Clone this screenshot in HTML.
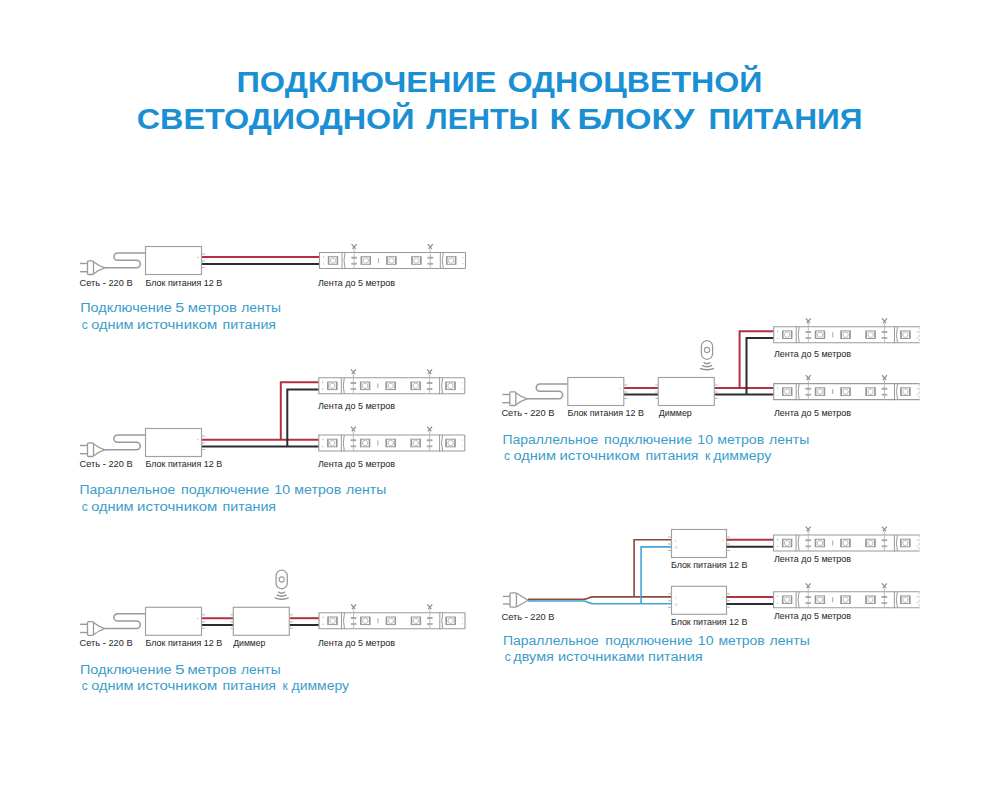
<!DOCTYPE html>
<html><head><meta charset="utf-8"><title>Подключение одноцветной светодиодной ленты</title>
<style>
html,body{margin:0;padding:0;background:#fff;width:1000px;height:800px;overflow:hidden}
svg{display:block;font-family:"Liberation Sans",sans-serif}
</style></head><body>
<svg width="1000" height="800" viewBox="0 0 1000 800">
<rect width="1000" height="800" fill="#fff"/>
<text x="236.5" y="92.3" font-size="29" fill="#1a8fd3" font-weight="bold" textLength="260.0" lengthAdjust="spacingAndGlyphs">ПОДКЛЮЧЕНИЕ</text>
<text x="507.5" y="92.3" font-size="29" fill="#1a8fd3" font-weight="bold" textLength="255.0" lengthAdjust="spacingAndGlyphs">ОДНОЦВЕТНОЙ</text>
<text x="136.7" y="129" font-size="29" fill="#1a8fd3" font-weight="bold" textLength="277.8" lengthAdjust="spacingAndGlyphs">СВЕТОДИОДНОЙ</text>
<text x="426.3" y="129" font-size="29" fill="#1a8fd3" font-weight="bold" textLength="112.0" lengthAdjust="spacingAndGlyphs">ЛЕНТЫ</text>
<text x="549.5" y="129" font-size="29" fill="#1a8fd3" font-weight="bold" textLength="21.0" lengthAdjust="spacingAndGlyphs">К</text>
<text x="577.5" y="129" font-size="29" fill="#1a8fd3" font-weight="bold" textLength="117.0" lengthAdjust="spacingAndGlyphs">БЛОКУ</text>
<text x="708.5" y="129" font-size="29" fill="#1a8fd3" font-weight="bold" textLength="154.0" lengthAdjust="spacingAndGlyphs">ПИТАНИЯ</text>
<text x="80.2" y="312.3" font-size="12.0" fill="#3c9dca" font-weight="normal" textLength="91.6" lengthAdjust="spacingAndGlyphs">Подключение</text>
<text x="175.3" y="312.3" font-size="12.0" fill="#3c9dca" font-weight="normal" textLength="8.9" lengthAdjust="spacingAndGlyphs">5</text>
<text x="187.7" y="312.3" font-size="12.0" fill="#3c9dca" font-weight="normal" textLength="49.3" lengthAdjust="spacingAndGlyphs">метров</text>
<text x="241.3" y="312.3" font-size="12.0" fill="#3c9dca" font-weight="normal" textLength="39.6" lengthAdjust="spacingAndGlyphs">ленты</text>
<text x="84.65" y="328.5" font-size="12.0" fill="#3c9dca" text-anchor="middle">с</text>
<text x="91.2" y="328.5" font-size="12.0" fill="#3c9dca" font-weight="normal" textLength="42.4" lengthAdjust="spacingAndGlyphs">одним</text>
<text x="137.1" y="328.5" font-size="12.0" fill="#3c9dca" font-weight="normal" textLength="80.2" lengthAdjust="spacingAndGlyphs">источником</text>
<text x="222.5" y="328.5" font-size="12.0" fill="#3c9dca" font-weight="normal" textLength="53.6" lengthAdjust="spacingAndGlyphs">питания</text>
<text x="79.5" y="494.4" font-size="12.0" fill="#3c9dca" font-weight="normal" textLength="95.7" lengthAdjust="spacingAndGlyphs">Параллельное</text>
<text x="181.1" y="494.4" font-size="12.0" fill="#3c9dca" font-weight="normal" textLength="88.1" lengthAdjust="spacingAndGlyphs">подключение</text>
<text x="274.3" y="494.4" font-size="12.0" fill="#3c9dca" font-weight="normal" textLength="15.7" lengthAdjust="spacingAndGlyphs">10</text>
<text x="294.3" y="494.4" font-size="12.0" fill="#3c9dca" font-weight="normal" textLength="46.9" lengthAdjust="spacingAndGlyphs">метров</text>
<text x="346.1" y="494.4" font-size="12.0" fill="#3c9dca" font-weight="normal" textLength="40.2" lengthAdjust="spacingAndGlyphs">ленты</text>
<text x="84.65" y="510.5" font-size="12.0" fill="#3c9dca" text-anchor="middle">с</text>
<text x="91.2" y="510.5" font-size="12.0" fill="#3c9dca" font-weight="normal" textLength="42.4" lengthAdjust="spacingAndGlyphs">одним</text>
<text x="137.1" y="510.5" font-size="12.0" fill="#3c9dca" font-weight="normal" textLength="80.2" lengthAdjust="spacingAndGlyphs">источником</text>
<text x="222.5" y="510.5" font-size="12.0" fill="#3c9dca" font-weight="normal" textLength="53.6" lengthAdjust="spacingAndGlyphs">питания</text>
<text x="79.9" y="674.3" font-size="12.0" fill="#3c9dca" font-weight="normal" textLength="91.6" lengthAdjust="spacingAndGlyphs">Подключение</text>
<text x="175.0" y="674.3" font-size="12.0" fill="#3c9dca" font-weight="normal" textLength="9.6" lengthAdjust="spacingAndGlyphs">5</text>
<text x="187.4" y="674.3" font-size="12.0" fill="#3c9dca" font-weight="normal" textLength="49.3" lengthAdjust="spacingAndGlyphs">метров</text>
<text x="241.0" y="674.3" font-size="12.0" fill="#3c9dca" font-weight="normal" textLength="39.6" lengthAdjust="spacingAndGlyphs">ленты</text>
<text x="84.65" y="690" font-size="12.0" fill="#3c9dca" text-anchor="middle">с</text>
<text x="91.2" y="690" font-size="12.0" fill="#3c9dca" font-weight="normal" textLength="42.4" lengthAdjust="spacingAndGlyphs">одним</text>
<text x="137.1" y="690" font-size="12.0" fill="#3c9dca" font-weight="normal" textLength="80.2" lengthAdjust="spacingAndGlyphs">источником</text>
<text x="222.5" y="690" font-size="12.0" fill="#3c9dca" font-weight="normal" textLength="53.6" lengthAdjust="spacingAndGlyphs">питания</text>
<text x="285.2" y="690" font-size="12.0" fill="#3c9dca" text-anchor="middle">к</text>
<text x="291.5" y="690" font-size="12.0" fill="#3c9dca" font-weight="normal" textLength="57.5" lengthAdjust="spacingAndGlyphs">диммеру</text>
<text x="502.5" y="443.7" font-size="12.0" fill="#3c9dca" font-weight="normal" textLength="95.7" lengthAdjust="spacingAndGlyphs">Параллельное</text>
<text x="604.1" y="443.7" font-size="12.0" fill="#3c9dca" font-weight="normal" textLength="88.1" lengthAdjust="spacingAndGlyphs">подключение</text>
<text x="697.3" y="443.7" font-size="12.0" fill="#3c9dca" font-weight="normal" textLength="15.7" lengthAdjust="spacingAndGlyphs">10</text>
<text x="717.3" y="443.7" font-size="12.0" fill="#3c9dca" font-weight="normal" textLength="46.9" lengthAdjust="spacingAndGlyphs">метров</text>
<text x="769.1" y="443.7" font-size="12.0" fill="#3c9dca" font-weight="normal" textLength="40.2" lengthAdjust="spacingAndGlyphs">ленты</text>
<text x="507.05" y="459.5" font-size="12.0" fill="#3c9dca" text-anchor="middle">с</text>
<text x="513.6" y="459.5" font-size="12.0" fill="#3c9dca" font-weight="normal" textLength="42.4" lengthAdjust="spacingAndGlyphs">одним</text>
<text x="559.5" y="459.5" font-size="12.0" fill="#3c9dca" font-weight="normal" textLength="80.2" lengthAdjust="spacingAndGlyphs">источником</text>
<text x="645.6" y="459.5" font-size="12.0" fill="#3c9dca" font-weight="normal" textLength="52.9" lengthAdjust="spacingAndGlyphs">питания</text>
<text x="707.6" y="459.5" font-size="12.0" fill="#3c9dca" text-anchor="middle">к</text>
<text x="713.2" y="459.5" font-size="12.0" fill="#3c9dca" font-weight="normal" textLength="58.2" lengthAdjust="spacingAndGlyphs">диммеру</text>
<text x="503.0" y="645.3" font-size="12.0" fill="#3c9dca" font-weight="normal" textLength="95.7" lengthAdjust="spacingAndGlyphs">Параллельное</text>
<text x="605.3" y="645.3" font-size="12.0" fill="#3c9dca" font-weight="normal" textLength="87.4" lengthAdjust="spacingAndGlyphs">подключение</text>
<text x="697.8" y="645.3" font-size="12.0" fill="#3c9dca" font-weight="normal" textLength="15.7" lengthAdjust="spacingAndGlyphs">10</text>
<text x="718.5" y="645.3" font-size="12.0" fill="#3c9dca" font-weight="normal" textLength="46.2" lengthAdjust="spacingAndGlyphs">метров</text>
<text x="769.6" y="645.3" font-size="12.0" fill="#3c9dca" font-weight="normal" textLength="40.2" lengthAdjust="spacingAndGlyphs">ленты</text>
<text x="507.75" y="660.8" font-size="12.0" fill="#3c9dca" text-anchor="middle">с</text>
<text x="513.3" y="660.8" font-size="12.0" fill="#3c9dca" font-weight="normal" textLength="40.6" lengthAdjust="spacingAndGlyphs">двумя</text>
<text x="557.9" y="660.8" font-size="12.0" fill="#3c9dca" font-weight="normal" textLength="86.6" lengthAdjust="spacingAndGlyphs">источниками</text>
<text x="648.0" y="660.8" font-size="12.0" fill="#3c9dca" font-weight="normal" textLength="54.7" lengthAdjust="spacingAndGlyphs">питания</text>
<line x1="80.0" y1="263.5" x2="87.5" y2="263.5" stroke="#9a9a9a" stroke-width="1.4" />
<line x1="80.0" y1="271.7" x2="87.5" y2="271.7" stroke="#9a9a9a" stroke-width="1.4" />
<rect x="87.5" y="260.9" width="6" height="13.6" rx="1" fill="#fff" stroke="#9a9a9a" stroke-width="1.3"/>
<path d="M93.5,261.7 Q99.0,266.1 104.8,267.8 Q99.0,269.5 93.5,273.9" fill="none" stroke="#9a9a9a" stroke-width="1.3"/>
<path d="M104.8,267.8 L136.5,267.8 A3.8,3.8 0 0 0 136.5,260.2 L117.5,260.2 A3.6,3.6 0 0 1 117.5,253.0 L145.5,253.0" fill="none" stroke="#9a9a9a" stroke-width="1.5"/>
<polyline points="201.5,257 319.5,257" fill="none" stroke="#b3303f" stroke-width="2.0" stroke-linejoin="miter"/>
<polyline points="201.5,264 319.5,264" fill="none" stroke="#2a2d30" stroke-width="2.0" stroke-linejoin="miter"/>
<rect x="145.5" y="246.5" width="56" height="28" fill="#fff" stroke="#a0a0a0" stroke-width="1.15"/>
<line x1="201.5" y1="254.0" x2="205.0" y2="254.0" stroke="#b4b4b4" stroke-width="1" />
<line x1="201.5" y1="261.0" x2="205.0" y2="261.0" stroke="#b4b4b4" stroke-width="1" />
<line x1="201.5" y1="267.5" x2="205.0" y2="267.5" stroke="#b4b4b4" stroke-width="1" />
<text x="196.5" y="258.7" font-size="4.5" fill="#c8c8c8">+</text>
<text x="196.5" y="265.7" font-size="4.5" fill="#c8c8c8">-</text>
<path d="M465.5,252.5 L319.5,252.5 L319.5,268.5 L465.5,268.5" fill="none" stroke="#9a9a9a" stroke-width="1.1"/>
<line x1="465.5" y1="252.5" x2="465.5" y2="268.5" stroke="#9a9a9a" stroke-width="1.1" />
<line x1="342.0" y1="252.0" x2="342.0" y2="269.0" stroke="#9a9a9a" stroke-width="1" />
<path d="M345.0,252.5 Q343.0,260.5 345.0,268.5" fill="none" stroke="#9a9a9a" stroke-width="1"/>
<line x1="440.3" y1="252.0" x2="440.3" y2="269.0" stroke="#9a9a9a" stroke-width="1" />
<path d="M443.3,252.5 Q441.3,260.5 443.3,268.5" fill="none" stroke="#9a9a9a" stroke-width="1"/>
<rect x="328.3" y="256.7" width="9.4" height="7.6" fill="none" stroke="#9a9a9a" stroke-width="1"/>
<line x1="328.7" y1="256.7" x2="328.7" y2="264.3" stroke="#959595" stroke-width="1.3" />
<line x1="337.3" y1="256.7" x2="337.3" y2="264.3" stroke="#959595" stroke-width="1.3" />
<circle cx="333.0" cy="260.5" r="2.7" fill="none" stroke="#b4b4b4" stroke-width="0.9"/>
<rect x="361.1" y="256.7" width="9.4" height="7.6" fill="none" stroke="#9a9a9a" stroke-width="1"/>
<line x1="361.5" y1="256.7" x2="361.5" y2="264.3" stroke="#959595" stroke-width="1.3" />
<line x1="370.1" y1="256.7" x2="370.1" y2="264.3" stroke="#959595" stroke-width="1.3" />
<circle cx="365.8" cy="260.5" r="2.7" fill="none" stroke="#b4b4b4" stroke-width="0.9"/>
<rect x="386.7" y="256.7" width="9.4" height="7.6" fill="none" stroke="#9a9a9a" stroke-width="1"/>
<line x1="387.09999999999997" y1="256.7" x2="387.09999999999997" y2="264.3" stroke="#959595" stroke-width="1.3" />
<line x1="395.7" y1="256.7" x2="395.7" y2="264.3" stroke="#959595" stroke-width="1.3" />
<circle cx="391.4" cy="260.5" r="2.7" fill="none" stroke="#b4b4b4" stroke-width="0.9"/>
<rect x="411.7" y="256.7" width="9.4" height="7.6" fill="none" stroke="#9a9a9a" stroke-width="1"/>
<line x1="412.09999999999997" y1="256.7" x2="412.09999999999997" y2="264.3" stroke="#959595" stroke-width="1.3" />
<line x1="420.7" y1="256.7" x2="420.7" y2="264.3" stroke="#959595" stroke-width="1.3" />
<circle cx="416.4" cy="260.5" r="2.7" fill="none" stroke="#b4b4b4" stroke-width="0.9"/>
<rect x="446.5" y="256.7" width="9.4" height="7.6" fill="none" stroke="#9a9a9a" stroke-width="1"/>
<line x1="446.9" y1="256.7" x2="446.9" y2="264.3" stroke="#959595" stroke-width="1.3" />
<line x1="455.5" y1="256.7" x2="455.5" y2="264.3" stroke="#959595" stroke-width="1.3" />
<circle cx="451.2" cy="260.5" r="2.7" fill="none" stroke="#b4b4b4" stroke-width="0.9"/>
<line x1="354.1" y1="252.5" x2="354.1" y2="268.5" stroke="#b4b4b4" stroke-width="0.8" />
<rect x="351.1" y="256.7" width="6" height="2" rx="1" fill="#a8a8a8"/>
<rect x="351.1" y="262.7" width="6" height="2" rx="1" fill="#b0b0b0"/>
<path d="M351.6,244.1 L355.70000000000005,248.9 M356.6,244.1 L352.5,248.9" fill="none" stroke="#8c8c8c" stroke-width="1.2"/>
<line x1="354.1" y1="249.3" x2="354.1" y2="252.5" stroke="#aaa" stroke-width="0.8" />
<line x1="430.3" y1="252.5" x2="430.3" y2="268.5" stroke="#b4b4b4" stroke-width="0.8" />
<rect x="427.3" y="256.7" width="6" height="2" rx="1" fill="#a8a8a8"/>
<rect x="427.3" y="262.7" width="6" height="2" rx="1" fill="#b0b0b0"/>
<path d="M427.8,244.1 L431.90000000000003,248.9 M432.8,244.1 L428.7,248.9" fill="none" stroke="#8c8c8c" stroke-width="1.2"/>
<line x1="430.3" y1="249.3" x2="430.3" y2="252.5" stroke="#aaa" stroke-width="0.8" />
<line x1="378.5" y1="258.0" x2="378.5" y2="263.0" stroke="#b4b4b4" stroke-width="1.2" />
<circle cx="323.5" cy="257.0" r="0.7" fill="#b4b4b4"/>
<circle cx="323.5" cy="264.0" r="0.7" fill="#b4b4b4"/>
<circle cx="463.0" cy="257.5" r="0.6" fill="#b4b4b4"/>
<circle cx="463.0" cy="263.5" r="0.6" fill="#b4b4b4"/>
<text x="79.6" y="286.3" font-size="8.6" fill="#2e2e2e" font-weight="normal" stroke="#2e2e2e" stroke-width="0.06" textLength="53" lengthAdjust="spacingAndGlyphs">Сеть - 220 В</text>
<text x="145.6" y="286.3" font-size="8.6" fill="#2e2e2e" font-weight="normal" stroke="#2e2e2e" stroke-width="0.06" textLength="76.5" lengthAdjust="spacingAndGlyphs">Блок питания 12 В</text>
<text x="318" y="285.8" font-size="8.6" fill="#2e2e2e" font-weight="normal" stroke="#2e2e2e" stroke-width="0.06" textLength="77" lengthAdjust="spacingAndGlyphs">Лента до 5 метров</text>
<line x1="80.0" y1="445.5" x2="87.5" y2="445.5" stroke="#9a9a9a" stroke-width="1.4" />
<line x1="80.0" y1="453.7" x2="87.5" y2="453.7" stroke="#9a9a9a" stroke-width="1.4" />
<rect x="87.5" y="442.9" width="6" height="13.6" rx="1" fill="#fff" stroke="#9a9a9a" stroke-width="1.3"/>
<path d="M93.5,443.7 Q99.0,448.1 104.8,449.8 Q99.0,451.5 93.5,455.9" fill="none" stroke="#9a9a9a" stroke-width="1.3"/>
<path d="M104.8,449.8 L136.5,449.8 A3.8,3.8 0 0 0 136.5,442.2 L117.5,442.2 A3.6,3.6 0 0 1 117.5,435.0 L145.5,435.0" fill="none" stroke="#9a9a9a" stroke-width="1.5"/>
<polyline points="201.5,439.7 318.8,439.7" fill="none" stroke="#b3303f" stroke-width="2.0" stroke-linejoin="miter"/>
<polyline points="201.5,446.4 318.8,446.4" fill="none" stroke="#2a2d30" stroke-width="2.0" stroke-linejoin="miter"/>
<polyline points="280.8,439.7 280.8,382.3 318.8,382.3" fill="none" stroke="#b3303f" stroke-width="2.0" stroke-linejoin="miter"/>
<polyline points="287.3,446.4 287.3,389.5 318.8,389.5" fill="none" stroke="#2a2d30" stroke-width="2.0" stroke-linejoin="miter"/>
<rect x="145.5" y="428.5" width="56" height="28" fill="#fff" stroke="#a0a0a0" stroke-width="1.15"/>
<line x1="201.5" y1="436.0" x2="205.0" y2="436.0" stroke="#b4b4b4" stroke-width="1" />
<line x1="201.5" y1="443.0" x2="205.0" y2="443.0" stroke="#b4b4b4" stroke-width="1" />
<line x1="201.5" y1="449.5" x2="205.0" y2="449.5" stroke="#b4b4b4" stroke-width="1" />
<text x="196.5" y="440.7" font-size="4.5" fill="#c8c8c8">+</text>
<text x="196.5" y="447.7" font-size="4.5" fill="#c8c8c8">-</text>
<path d="M464.8,377.8 L318.8,377.8 L318.8,393.8 L464.8,393.8" fill="none" stroke="#9a9a9a" stroke-width="1.1"/>
<line x1="464.8" y1="377.8" x2="464.8" y2="393.8" stroke="#9a9a9a" stroke-width="1.1" />
<line x1="341.3" y1="377.3" x2="341.3" y2="394.3" stroke="#9a9a9a" stroke-width="1" />
<path d="M344.3,377.8 Q342.3,385.8 344.3,393.8" fill="none" stroke="#9a9a9a" stroke-width="1"/>
<line x1="439.6" y1="377.3" x2="439.6" y2="394.3" stroke="#9a9a9a" stroke-width="1" />
<path d="M442.6,377.8 Q440.6,385.8 442.6,393.8" fill="none" stroke="#9a9a9a" stroke-width="1"/>
<rect x="327.6" y="382.0" width="9.4" height="7.6" fill="none" stroke="#9a9a9a" stroke-width="1"/>
<line x1="328.0" y1="382.0" x2="328.0" y2="389.6" stroke="#959595" stroke-width="1.3" />
<line x1="336.6" y1="382.0" x2="336.6" y2="389.6" stroke="#959595" stroke-width="1.3" />
<circle cx="332.3" cy="385.8" r="2.7" fill="none" stroke="#b4b4b4" stroke-width="0.9"/>
<rect x="360.40000000000003" y="382.0" width="9.4" height="7.6" fill="none" stroke="#9a9a9a" stroke-width="1"/>
<line x1="360.8" y1="382.0" x2="360.8" y2="389.6" stroke="#959595" stroke-width="1.3" />
<line x1="369.40000000000003" y1="382.0" x2="369.40000000000003" y2="389.6" stroke="#959595" stroke-width="1.3" />
<circle cx="365.1" cy="385.8" r="2.7" fill="none" stroke="#b4b4b4" stroke-width="0.9"/>
<rect x="386.0" y="382.0" width="9.4" height="7.6" fill="none" stroke="#9a9a9a" stroke-width="1"/>
<line x1="386.4" y1="382.0" x2="386.4" y2="389.6" stroke="#959595" stroke-width="1.3" />
<line x1="395.0" y1="382.0" x2="395.0" y2="389.6" stroke="#959595" stroke-width="1.3" />
<circle cx="390.7" cy="385.8" r="2.7" fill="none" stroke="#b4b4b4" stroke-width="0.9"/>
<rect x="411.0" y="382.0" width="9.4" height="7.6" fill="none" stroke="#9a9a9a" stroke-width="1"/>
<line x1="411.4" y1="382.0" x2="411.4" y2="389.6" stroke="#959595" stroke-width="1.3" />
<line x1="420.0" y1="382.0" x2="420.0" y2="389.6" stroke="#959595" stroke-width="1.3" />
<circle cx="415.7" cy="385.8" r="2.7" fill="none" stroke="#b4b4b4" stroke-width="0.9"/>
<rect x="445.8" y="382.0" width="9.4" height="7.6" fill="none" stroke="#9a9a9a" stroke-width="1"/>
<line x1="446.2" y1="382.0" x2="446.2" y2="389.6" stroke="#959595" stroke-width="1.3" />
<line x1="454.8" y1="382.0" x2="454.8" y2="389.6" stroke="#959595" stroke-width="1.3" />
<circle cx="450.5" cy="385.8" r="2.7" fill="none" stroke="#b4b4b4" stroke-width="0.9"/>
<line x1="353.40000000000003" y1="377.8" x2="353.40000000000003" y2="393.8" stroke="#b4b4b4" stroke-width="0.8" />
<rect x="350.40000000000003" y="382.0" width="6" height="2" rx="1" fill="#a8a8a8"/>
<rect x="350.40000000000003" y="388.0" width="6" height="2" rx="1" fill="#b0b0b0"/>
<path d="M350.90000000000003,369.40000000000003 L355.00000000000006,374.2 M355.90000000000003,369.40000000000003 L351.8,374.2" fill="none" stroke="#8c8c8c" stroke-width="1.2"/>
<line x1="353.40000000000003" y1="374.6" x2="353.40000000000003" y2="377.8" stroke="#aaa" stroke-width="0.8" />
<line x1="429.6" y1="377.8" x2="429.6" y2="393.8" stroke="#b4b4b4" stroke-width="0.8" />
<rect x="426.6" y="382.0" width="6" height="2" rx="1" fill="#a8a8a8"/>
<rect x="426.6" y="388.0" width="6" height="2" rx="1" fill="#b0b0b0"/>
<path d="M427.1,369.40000000000003 L431.20000000000005,374.2 M432.1,369.40000000000003 L428.0,374.2" fill="none" stroke="#8c8c8c" stroke-width="1.2"/>
<line x1="429.6" y1="374.6" x2="429.6" y2="377.8" stroke="#aaa" stroke-width="0.8" />
<line x1="377.8" y1="383.3" x2="377.8" y2="388.3" stroke="#b4b4b4" stroke-width="1.2" />
<circle cx="322.8" cy="382.3" r="0.7" fill="#b4b4b4"/>
<circle cx="322.8" cy="389.3" r="0.7" fill="#b4b4b4"/>
<circle cx="462.3" cy="382.8" r="0.6" fill="#b4b4b4"/>
<circle cx="462.3" cy="388.8" r="0.6" fill="#b4b4b4"/>
<path d="M464.8,435 L318.8,435 L318.8,451 L464.8,451" fill="none" stroke="#9a9a9a" stroke-width="1.1"/>
<line x1="464.8" y1="435" x2="464.8" y2="451" stroke="#9a9a9a" stroke-width="1.1" />
<line x1="341.3" y1="434.5" x2="341.3" y2="451.5" stroke="#9a9a9a" stroke-width="1" />
<path d="M344.3,435 Q342.3,443.0 344.3,451" fill="none" stroke="#9a9a9a" stroke-width="1"/>
<line x1="439.6" y1="434.5" x2="439.6" y2="451.5" stroke="#9a9a9a" stroke-width="1" />
<path d="M442.6,435 Q440.6,443.0 442.6,451" fill="none" stroke="#9a9a9a" stroke-width="1"/>
<rect x="327.6" y="439.2" width="9.4" height="7.6" fill="none" stroke="#9a9a9a" stroke-width="1"/>
<line x1="328.0" y1="439.2" x2="328.0" y2="446.8" stroke="#959595" stroke-width="1.3" />
<line x1="336.6" y1="439.2" x2="336.6" y2="446.8" stroke="#959595" stroke-width="1.3" />
<circle cx="332.3" cy="443.0" r="2.7" fill="none" stroke="#b4b4b4" stroke-width="0.9"/>
<rect x="360.40000000000003" y="439.2" width="9.4" height="7.6" fill="none" stroke="#9a9a9a" stroke-width="1"/>
<line x1="360.8" y1="439.2" x2="360.8" y2="446.8" stroke="#959595" stroke-width="1.3" />
<line x1="369.40000000000003" y1="439.2" x2="369.40000000000003" y2="446.8" stroke="#959595" stroke-width="1.3" />
<circle cx="365.1" cy="443.0" r="2.7" fill="none" stroke="#b4b4b4" stroke-width="0.9"/>
<rect x="386.0" y="439.2" width="9.4" height="7.6" fill="none" stroke="#9a9a9a" stroke-width="1"/>
<line x1="386.4" y1="439.2" x2="386.4" y2="446.8" stroke="#959595" stroke-width="1.3" />
<line x1="395.0" y1="439.2" x2="395.0" y2="446.8" stroke="#959595" stroke-width="1.3" />
<circle cx="390.7" cy="443.0" r="2.7" fill="none" stroke="#b4b4b4" stroke-width="0.9"/>
<rect x="411.0" y="439.2" width="9.4" height="7.6" fill="none" stroke="#9a9a9a" stroke-width="1"/>
<line x1="411.4" y1="439.2" x2="411.4" y2="446.8" stroke="#959595" stroke-width="1.3" />
<line x1="420.0" y1="439.2" x2="420.0" y2="446.8" stroke="#959595" stroke-width="1.3" />
<circle cx="415.7" cy="443.0" r="2.7" fill="none" stroke="#b4b4b4" stroke-width="0.9"/>
<rect x="445.8" y="439.2" width="9.4" height="7.6" fill="none" stroke="#9a9a9a" stroke-width="1"/>
<line x1="446.2" y1="439.2" x2="446.2" y2="446.8" stroke="#959595" stroke-width="1.3" />
<line x1="454.8" y1="439.2" x2="454.8" y2="446.8" stroke="#959595" stroke-width="1.3" />
<circle cx="450.5" cy="443.0" r="2.7" fill="none" stroke="#b4b4b4" stroke-width="0.9"/>
<line x1="353.40000000000003" y1="435" x2="353.40000000000003" y2="451" stroke="#b4b4b4" stroke-width="0.8" />
<rect x="350.40000000000003" y="439.2" width="6" height="2" rx="1" fill="#a8a8a8"/>
<rect x="350.40000000000003" y="445.2" width="6" height="2" rx="1" fill="#b0b0b0"/>
<path d="M350.90000000000003,426.6 L355.00000000000006,431.4 M355.90000000000003,426.6 L351.8,431.4" fill="none" stroke="#8c8c8c" stroke-width="1.2"/>
<line x1="353.40000000000003" y1="431.8" x2="353.40000000000003" y2="435" stroke="#aaa" stroke-width="0.8" />
<line x1="429.6" y1="435" x2="429.6" y2="451" stroke="#b4b4b4" stroke-width="0.8" />
<rect x="426.6" y="439.2" width="6" height="2" rx="1" fill="#a8a8a8"/>
<rect x="426.6" y="445.2" width="6" height="2" rx="1" fill="#b0b0b0"/>
<path d="M427.1,426.6 L431.20000000000005,431.4 M432.1,426.6 L428.0,431.4" fill="none" stroke="#8c8c8c" stroke-width="1.2"/>
<line x1="429.6" y1="431.8" x2="429.6" y2="435" stroke="#aaa" stroke-width="0.8" />
<line x1="377.8" y1="440.5" x2="377.8" y2="445.5" stroke="#b4b4b4" stroke-width="1.2" />
<circle cx="322.8" cy="439.5" r="0.7" fill="#b4b4b4"/>
<circle cx="322.8" cy="446.5" r="0.7" fill="#b4b4b4"/>
<circle cx="462.3" cy="440" r="0.6" fill="#b4b4b4"/>
<circle cx="462.3" cy="446" r="0.6" fill="#b4b4b4"/>
<text x="79.6" y="467.40000000000003" font-size="8.6" fill="#2e2e2e" font-weight="normal" stroke="#2e2e2e" stroke-width="0.06" textLength="53" lengthAdjust="spacingAndGlyphs">Сеть - 220 В</text>
<text x="145.6" y="467.40000000000003" font-size="8.6" fill="#2e2e2e" font-weight="normal" stroke="#2e2e2e" stroke-width="0.06" textLength="76.5" lengthAdjust="spacingAndGlyphs">Блок питания 12 В</text>
<text x="318" y="409.3" font-size="8.6" fill="#2e2e2e" font-weight="normal" stroke="#2e2e2e" stroke-width="0.06" textLength="77" lengthAdjust="spacingAndGlyphs">Лента до 5 метров</text>
<text x="318" y="466.7" font-size="8.6" fill="#2e2e2e" font-weight="normal" stroke="#2e2e2e" stroke-width="0.06" textLength="77" lengthAdjust="spacingAndGlyphs">Лента до 5 метров</text>
<line x1="80.0" y1="624.3" x2="87.5" y2="624.3" stroke="#9a9a9a" stroke-width="1.4" />
<line x1="80.0" y1="632.5" x2="87.5" y2="632.5" stroke="#9a9a9a" stroke-width="1.4" />
<rect x="87.5" y="621.6999999999999" width="6" height="13.6" rx="1" fill="#fff" stroke="#9a9a9a" stroke-width="1.3"/>
<path d="M93.5,622.5 Q99.0,626.9 104.8,628.5999999999999 Q99.0,630.3 93.5,634.6999999999999" fill="none" stroke="#9a9a9a" stroke-width="1.3"/>
<path d="M104.8,628.5999999999999 L136.5,628.5999999999999 A3.8,3.8 0 0 0 136.5,620.9999999999999 L117.5,620.9999999999999 A3.6,3.6 0 0 1 117.5,613.7999999999998 L145.5,613.7999999999998" fill="none" stroke="#9a9a9a" stroke-width="1.5"/>
<polyline points="201.5,618.2 233.3,618.2" fill="none" stroke="#b3303f" stroke-width="2.0" stroke-linejoin="miter"/>
<polyline points="201.5,625 233.3,625" fill="none" stroke="#2a2d30" stroke-width="2.0" stroke-linejoin="miter"/>
<polyline points="289.3,618.2 319,618.2" fill="none" stroke="#b3303f" stroke-width="2.0" stroke-linejoin="miter"/>
<polyline points="289.3,625 319,625" fill="none" stroke="#2a2d30" stroke-width="2.0" stroke-linejoin="miter"/>
<rect x="145.5" y="607.3" width="56" height="28" fill="#fff" stroke="#a0a0a0" stroke-width="1.15"/>
<line x1="201.5" y1="614.8" x2="205.0" y2="614.8" stroke="#b4b4b4" stroke-width="1" />
<line x1="201.5" y1="621.8" x2="205.0" y2="621.8" stroke="#b4b4b4" stroke-width="1" />
<line x1="201.5" y1="628.3" x2="205.0" y2="628.3" stroke="#b4b4b4" stroke-width="1" />
<text x="196.5" y="619.5" font-size="4.5" fill="#c8c8c8">+</text>
<text x="196.5" y="626.5" font-size="4.5" fill="#c8c8c8">-</text>
<rect x="233.3" y="607.3" width="56" height="28" fill="#fff" stroke="#a0a0a0" stroke-width="1.15"/>
<line x1="289.3" y1="614.8" x2="292.8" y2="614.8" stroke="#b4b4b4" stroke-width="1" />
<line x1="289.3" y1="621.8" x2="292.8" y2="621.8" stroke="#b4b4b4" stroke-width="1" />
<line x1="289.3" y1="628.3" x2="292.8" y2="628.3" stroke="#b4b4b4" stroke-width="1" />
<line x1="230.3" y1="614.8" x2="233.8" y2="614.8" stroke="#b4b4b4" stroke-width="1" />
<line x1="230.3" y1="621.8" x2="233.8" y2="621.8" stroke="#b4b4b4" stroke-width="1" />
<line x1="230.3" y1="628.3" x2="233.8" y2="628.3" stroke="#b4b4b4" stroke-width="1" />
<rect x="276.09999999999997" y="570.2" width="11.2" height="18.6" rx="5.6" ry="5.6" fill="#fff" stroke="#9a9a9a" stroke-width="1.3"/>
<circle cx="281.7" cy="579.5" r="2.6" fill="none" stroke="#9a9a9a" stroke-width="1.1"/>
<path d="M278.3,591.8000000000001 Q281.7,594.6 285.09999999999997,591.8000000000001" fill="none" stroke="#8e8e8e" stroke-width="1.35"/>
<path d="M276.7,594.8000000000001 Q281.7,597.6 286.7,594.8000000000001" fill="none" stroke="#8e8e8e" stroke-width="1.35"/>
<path d="M274.7,597.8000000000001 Q281.7,600.6 288.7,597.8000000000001" fill="none" stroke="#8e8e8e" stroke-width="1.35"/>
<path d="M465,612.8 L319,612.8 L319,628.8 L465,628.8" fill="none" stroke="#9a9a9a" stroke-width="1.1"/>
<line x1="465" y1="612.8" x2="465" y2="628.8" stroke="#9a9a9a" stroke-width="1.1" />
<line x1="341.5" y1="612.3" x2="341.5" y2="629.3" stroke="#9a9a9a" stroke-width="1" />
<path d="M344.5,612.8 Q342.5,620.8 344.5,628.8" fill="none" stroke="#9a9a9a" stroke-width="1"/>
<line x1="439.8" y1="612.3" x2="439.8" y2="629.3" stroke="#9a9a9a" stroke-width="1" />
<path d="M442.8,612.8 Q440.8,620.8 442.8,628.8" fill="none" stroke="#9a9a9a" stroke-width="1"/>
<rect x="327.8" y="617.0" width="9.4" height="7.6" fill="none" stroke="#9a9a9a" stroke-width="1"/>
<line x1="328.2" y1="617.0" x2="328.2" y2="624.6" stroke="#959595" stroke-width="1.3" />
<line x1="336.8" y1="617.0" x2="336.8" y2="624.6" stroke="#959595" stroke-width="1.3" />
<circle cx="332.5" cy="620.8" r="2.7" fill="none" stroke="#b4b4b4" stroke-width="0.9"/>
<rect x="360.6" y="617.0" width="9.4" height="7.6" fill="none" stroke="#9a9a9a" stroke-width="1"/>
<line x1="361.0" y1="617.0" x2="361.0" y2="624.6" stroke="#959595" stroke-width="1.3" />
<line x1="369.6" y1="617.0" x2="369.6" y2="624.6" stroke="#959595" stroke-width="1.3" />
<circle cx="365.3" cy="620.8" r="2.7" fill="none" stroke="#b4b4b4" stroke-width="0.9"/>
<rect x="386.2" y="617.0" width="9.4" height="7.6" fill="none" stroke="#9a9a9a" stroke-width="1"/>
<line x1="386.59999999999997" y1="617.0" x2="386.59999999999997" y2="624.6" stroke="#959595" stroke-width="1.3" />
<line x1="395.2" y1="617.0" x2="395.2" y2="624.6" stroke="#959595" stroke-width="1.3" />
<circle cx="390.9" cy="620.8" r="2.7" fill="none" stroke="#b4b4b4" stroke-width="0.9"/>
<rect x="411.2" y="617.0" width="9.4" height="7.6" fill="none" stroke="#9a9a9a" stroke-width="1"/>
<line x1="411.59999999999997" y1="617.0" x2="411.59999999999997" y2="624.6" stroke="#959595" stroke-width="1.3" />
<line x1="420.2" y1="617.0" x2="420.2" y2="624.6" stroke="#959595" stroke-width="1.3" />
<circle cx="415.9" cy="620.8" r="2.7" fill="none" stroke="#b4b4b4" stroke-width="0.9"/>
<rect x="446" y="617.0" width="9.4" height="7.6" fill="none" stroke="#9a9a9a" stroke-width="1"/>
<line x1="446.4" y1="617.0" x2="446.4" y2="624.6" stroke="#959595" stroke-width="1.3" />
<line x1="455.0" y1="617.0" x2="455.0" y2="624.6" stroke="#959595" stroke-width="1.3" />
<circle cx="450.7" cy="620.8" r="2.7" fill="none" stroke="#b4b4b4" stroke-width="0.9"/>
<line x1="353.6" y1="612.8" x2="353.6" y2="628.8" stroke="#b4b4b4" stroke-width="0.8" />
<rect x="350.6" y="617.0" width="6" height="2" rx="1" fill="#a8a8a8"/>
<rect x="350.6" y="623.0" width="6" height="2" rx="1" fill="#b0b0b0"/>
<path d="M351.1,604.4 L355.20000000000005,609.1999999999999 M356.1,604.4 L352.0,609.1999999999999" fill="none" stroke="#8c8c8c" stroke-width="1.2"/>
<line x1="353.6" y1="609.5999999999999" x2="353.6" y2="612.8" stroke="#aaa" stroke-width="0.8" />
<line x1="429.8" y1="612.8" x2="429.8" y2="628.8" stroke="#b4b4b4" stroke-width="0.8" />
<rect x="426.8" y="617.0" width="6" height="2" rx="1" fill="#a8a8a8"/>
<rect x="426.8" y="623.0" width="6" height="2" rx="1" fill="#b0b0b0"/>
<path d="M427.3,604.4 L431.40000000000003,609.1999999999999 M432.3,604.4 L428.2,609.1999999999999" fill="none" stroke="#8c8c8c" stroke-width="1.2"/>
<line x1="429.8" y1="609.5999999999999" x2="429.8" y2="612.8" stroke="#aaa" stroke-width="0.8" />
<line x1="378" y1="618.3" x2="378" y2="623.3" stroke="#b4b4b4" stroke-width="1.2" />
<circle cx="323" cy="617.3" r="0.7" fill="#b4b4b4"/>
<circle cx="323" cy="624.3" r="0.7" fill="#b4b4b4"/>
<circle cx="462.5" cy="617.8" r="0.6" fill="#b4b4b4"/>
<circle cx="462.5" cy="623.8" r="0.6" fill="#b4b4b4"/>
<text x="79.6" y="646.3" font-size="8.6" fill="#2e2e2e" font-weight="normal" stroke="#2e2e2e" stroke-width="0.06" textLength="53" lengthAdjust="spacingAndGlyphs">Сеть - 220 В</text>
<text x="145.6" y="646.3" font-size="8.6" fill="#2e2e2e" font-weight="normal" stroke="#2e2e2e" stroke-width="0.06" textLength="76.5" lengthAdjust="spacingAndGlyphs">Блок питания 12 В</text>
<text x="233.3" y="646.3" font-size="8.6" fill="#2e2e2e" font-weight="normal" stroke="#2e2e2e" stroke-width="0.06" textLength="32" lengthAdjust="spacingAndGlyphs">Диммер</text>
<text x="318" y="645.8" font-size="8.6" fill="#2e2e2e" font-weight="normal" stroke="#2e2e2e" stroke-width="0.06" textLength="77" lengthAdjust="spacingAndGlyphs">Лента до 5 метров</text>
<line x1="502.29999999999995" y1="394.5" x2="509.79999999999995" y2="394.5" stroke="#9a9a9a" stroke-width="1.4" />
<line x1="502.29999999999995" y1="402.7" x2="509.79999999999995" y2="402.7" stroke="#9a9a9a" stroke-width="1.4" />
<rect x="509.79999999999995" y="391.9" width="6" height="13.6" rx="1" fill="#fff" stroke="#9a9a9a" stroke-width="1.3"/>
<path d="M515.8,392.7 Q521.3,397.1 527.0999999999999,398.8 Q521.3,400.5 515.8,404.9" fill="none" stroke="#9a9a9a" stroke-width="1.3"/>
<path d="M527.0999999999999,398.8 L558.8,398.8 A3.8,3.8 0 0 0 558.8,391.2 L539.8,391.2 A3.6,3.6 0 0 1 539.8,384.0 L567.8,384.0" fill="none" stroke="#9a9a9a" stroke-width="1.5"/>
<polyline points="623.8,387.9 658.3,387.9" fill="none" stroke="#b3303f" stroke-width="2.0" stroke-linejoin="miter"/>
<polyline points="623.8,394.6 658.3,394.6" fill="none" stroke="#2a2d30" stroke-width="2.0" stroke-linejoin="miter"/>
<polyline points="714.3,387.9 773.7,387.9" fill="none" stroke="#b3303f" stroke-width="2.0" stroke-linejoin="miter"/>
<polyline points="714.3,394.6 773.7,394.6" fill="none" stroke="#2a2d30" stroke-width="2.0" stroke-linejoin="miter"/>
<polyline points="739.6,387.9 739.6,331.2 773.7,331.2" fill="none" stroke="#b3303f" stroke-width="2.0" stroke-linejoin="miter"/>
<polyline points="746.5,394.6 746.5,338 773.7,338" fill="none" stroke="#2a2d30" stroke-width="2.0" stroke-linejoin="miter"/>
<rect x="567.8" y="377.5" width="56" height="28" fill="#fff" stroke="#a0a0a0" stroke-width="1.15"/>
<line x1="623.8" y1="385.0" x2="627.3" y2="385.0" stroke="#b4b4b4" stroke-width="1" />
<line x1="623.8" y1="392.0" x2="627.3" y2="392.0" stroke="#b4b4b4" stroke-width="1" />
<line x1="623.8" y1="398.5" x2="627.3" y2="398.5" stroke="#b4b4b4" stroke-width="1" />
<text x="618.8" y="389.7" font-size="4.5" fill="#c8c8c8">+</text>
<text x="618.8" y="396.7" font-size="4.5" fill="#c8c8c8">-</text>
<rect x="658.3" y="377.5" width="56" height="28" fill="#fff" stroke="#a0a0a0" stroke-width="1.15"/>
<line x1="714.3" y1="385.0" x2="717.8" y2="385.0" stroke="#b4b4b4" stroke-width="1" />
<line x1="714.3" y1="392.0" x2="717.8" y2="392.0" stroke="#b4b4b4" stroke-width="1" />
<line x1="714.3" y1="398.5" x2="717.8" y2="398.5" stroke="#b4b4b4" stroke-width="1" />
<line x1="655.3" y1="385.0" x2="658.8" y2="385.0" stroke="#b4b4b4" stroke-width="1" />
<line x1="655.3" y1="392.0" x2="658.8" y2="392.0" stroke="#b4b4b4" stroke-width="1" />
<line x1="655.3" y1="398.5" x2="658.8" y2="398.5" stroke="#b4b4b4" stroke-width="1" />
<rect x="701.4" y="340.7" width="11.2" height="18.6" rx="5.6" ry="5.6" fill="#fff" stroke="#9a9a9a" stroke-width="1.3"/>
<circle cx="707" cy="350" r="2.6" fill="none" stroke="#9a9a9a" stroke-width="1.1"/>
<path d="M703.6,362.3 Q707,365.1 710.4,362.3" fill="none" stroke="#8e8e8e" stroke-width="1.35"/>
<path d="M702,365.3 Q707,368.1 712,365.3" fill="none" stroke="#8e8e8e" stroke-width="1.35"/>
<path d="M700,368.3 Q707,371.1 714,368.3" fill="none" stroke="#8e8e8e" stroke-width="1.35"/>
<path d="M919.7,326.7 L773.7,326.7 L773.7,342.7 L919.7,342.7" fill="none" stroke="#9a9a9a" stroke-width="1.1"/>
<line x1="919.2" y1="326.7" x2="919.2" y2="342.7" stroke="#c4c4c4" stroke-width="0.9" stroke-dasharray="2.5,1.5"/>
<line x1="796.2" y1="326.2" x2="796.2" y2="343.2" stroke="#9a9a9a" stroke-width="1" />
<path d="M799.2,326.7 Q797.2,334.7 799.2,342.7" fill="none" stroke="#9a9a9a" stroke-width="1"/>
<line x1="894.5" y1="326.2" x2="894.5" y2="343.2" stroke="#9a9a9a" stroke-width="1" />
<path d="M897.5,326.7 Q895.5,334.7 897.5,342.7" fill="none" stroke="#9a9a9a" stroke-width="1"/>
<rect x="782.5" y="330.9" width="9.4" height="7.6" fill="none" stroke="#9a9a9a" stroke-width="1"/>
<line x1="782.9" y1="330.9" x2="782.9" y2="338.5" stroke="#959595" stroke-width="1.3" />
<line x1="791.5" y1="330.9" x2="791.5" y2="338.5" stroke="#959595" stroke-width="1.3" />
<circle cx="787.2" cy="334.7" r="2.7" fill="none" stroke="#b4b4b4" stroke-width="0.9"/>
<rect x="815.3000000000001" y="330.9" width="9.4" height="7.6" fill="none" stroke="#9a9a9a" stroke-width="1"/>
<line x1="815.7" y1="330.9" x2="815.7" y2="338.5" stroke="#959595" stroke-width="1.3" />
<line x1="824.3000000000001" y1="330.9" x2="824.3000000000001" y2="338.5" stroke="#959595" stroke-width="1.3" />
<circle cx="820.0000000000001" cy="334.7" r="2.7" fill="none" stroke="#b4b4b4" stroke-width="0.9"/>
<rect x="840.9000000000001" y="330.9" width="9.4" height="7.6" fill="none" stroke="#9a9a9a" stroke-width="1"/>
<line x1="841.3000000000001" y1="330.9" x2="841.3000000000001" y2="338.5" stroke="#959595" stroke-width="1.3" />
<line x1="849.9000000000001" y1="330.9" x2="849.9000000000001" y2="338.5" stroke="#959595" stroke-width="1.3" />
<circle cx="845.6000000000001" cy="334.7" r="2.7" fill="none" stroke="#b4b4b4" stroke-width="0.9"/>
<rect x="865.9000000000001" y="330.9" width="9.4" height="7.6" fill="none" stroke="#9a9a9a" stroke-width="1"/>
<line x1="866.3000000000001" y1="330.9" x2="866.3000000000001" y2="338.5" stroke="#959595" stroke-width="1.3" />
<line x1="874.9000000000001" y1="330.9" x2="874.9000000000001" y2="338.5" stroke="#959595" stroke-width="1.3" />
<circle cx="870.6000000000001" cy="334.7" r="2.7" fill="none" stroke="#b4b4b4" stroke-width="0.9"/>
<rect x="900.7" y="330.9" width="9.4" height="7.6" fill="none" stroke="#9a9a9a" stroke-width="1"/>
<line x1="901.1" y1="330.9" x2="901.1" y2="338.5" stroke="#959595" stroke-width="1.3" />
<line x1="909.7" y1="330.9" x2="909.7" y2="338.5" stroke="#959595" stroke-width="1.3" />
<circle cx="905.4000000000001" cy="334.7" r="2.7" fill="none" stroke="#b4b4b4" stroke-width="0.9"/>
<line x1="808.3000000000001" y1="326.7" x2="808.3000000000001" y2="342.7" stroke="#b4b4b4" stroke-width="0.8" />
<rect x="805.3000000000001" y="330.9" width="6" height="2" rx="1" fill="#a8a8a8"/>
<rect x="805.3000000000001" y="336.9" width="6" height="2" rx="1" fill="#b0b0b0"/>
<path d="M805.8000000000001,318.3 L809.9000000000001,323.09999999999997 M810.8000000000001,318.3 L806.7,323.09999999999997" fill="none" stroke="#8c8c8c" stroke-width="1.2"/>
<line x1="808.3000000000001" y1="323.5" x2="808.3000000000001" y2="326.7" stroke="#aaa" stroke-width="0.8" />
<line x1="884.5" y1="326.7" x2="884.5" y2="342.7" stroke="#b4b4b4" stroke-width="0.8" />
<rect x="881.5" y="330.9" width="6" height="2" rx="1" fill="#a8a8a8"/>
<rect x="881.5" y="336.9" width="6" height="2" rx="1" fill="#b0b0b0"/>
<path d="M882.0,318.3 L886.1,323.09999999999997 M887.0,318.3 L882.9,323.09999999999997" fill="none" stroke="#8c8c8c" stroke-width="1.2"/>
<line x1="884.5" y1="323.5" x2="884.5" y2="326.7" stroke="#aaa" stroke-width="0.8" />
<line x1="832.7" y1="332.2" x2="832.7" y2="337.2" stroke="#b4b4b4" stroke-width="1.2" />
<circle cx="777.7" cy="331.2" r="0.7" fill="#b4b4b4"/>
<circle cx="777.7" cy="338.2" r="0.7" fill="#b4b4b4"/>
<circle cx="917.2" cy="331.7" r="0.6" fill="#b4b4b4"/>
<circle cx="917.2" cy="337.7" r="0.6" fill="#b4b4b4"/>
<path d="M919.7,383.6 L773.7,383.6 L773.7,399.6 L919.7,399.6" fill="none" stroke="#9a9a9a" stroke-width="1.1"/>
<line x1="919.2" y1="383.6" x2="919.2" y2="399.6" stroke="#c4c4c4" stroke-width="0.9" stroke-dasharray="2.5,1.5"/>
<line x1="796.2" y1="383.1" x2="796.2" y2="400.1" stroke="#9a9a9a" stroke-width="1" />
<path d="M799.2,383.6 Q797.2,391.6 799.2,399.6" fill="none" stroke="#9a9a9a" stroke-width="1"/>
<line x1="894.5" y1="383.1" x2="894.5" y2="400.1" stroke="#9a9a9a" stroke-width="1" />
<path d="M897.5,383.6 Q895.5,391.6 897.5,399.6" fill="none" stroke="#9a9a9a" stroke-width="1"/>
<rect x="782.5" y="387.8" width="9.4" height="7.6" fill="none" stroke="#9a9a9a" stroke-width="1"/>
<line x1="782.9" y1="387.8" x2="782.9" y2="395.40000000000003" stroke="#959595" stroke-width="1.3" />
<line x1="791.5" y1="387.8" x2="791.5" y2="395.40000000000003" stroke="#959595" stroke-width="1.3" />
<circle cx="787.2" cy="391.6" r="2.7" fill="none" stroke="#b4b4b4" stroke-width="0.9"/>
<rect x="815.3000000000001" y="387.8" width="9.4" height="7.6" fill="none" stroke="#9a9a9a" stroke-width="1"/>
<line x1="815.7" y1="387.8" x2="815.7" y2="395.40000000000003" stroke="#959595" stroke-width="1.3" />
<line x1="824.3000000000001" y1="387.8" x2="824.3000000000001" y2="395.40000000000003" stroke="#959595" stroke-width="1.3" />
<circle cx="820.0000000000001" cy="391.6" r="2.7" fill="none" stroke="#b4b4b4" stroke-width="0.9"/>
<rect x="840.9000000000001" y="387.8" width="9.4" height="7.6" fill="none" stroke="#9a9a9a" stroke-width="1"/>
<line x1="841.3000000000001" y1="387.8" x2="841.3000000000001" y2="395.40000000000003" stroke="#959595" stroke-width="1.3" />
<line x1="849.9000000000001" y1="387.8" x2="849.9000000000001" y2="395.40000000000003" stroke="#959595" stroke-width="1.3" />
<circle cx="845.6000000000001" cy="391.6" r="2.7" fill="none" stroke="#b4b4b4" stroke-width="0.9"/>
<rect x="865.9000000000001" y="387.8" width="9.4" height="7.6" fill="none" stroke="#9a9a9a" stroke-width="1"/>
<line x1="866.3000000000001" y1="387.8" x2="866.3000000000001" y2="395.40000000000003" stroke="#959595" stroke-width="1.3" />
<line x1="874.9000000000001" y1="387.8" x2="874.9000000000001" y2="395.40000000000003" stroke="#959595" stroke-width="1.3" />
<circle cx="870.6000000000001" cy="391.6" r="2.7" fill="none" stroke="#b4b4b4" stroke-width="0.9"/>
<rect x="900.7" y="387.8" width="9.4" height="7.6" fill="none" stroke="#9a9a9a" stroke-width="1"/>
<line x1="901.1" y1="387.8" x2="901.1" y2="395.40000000000003" stroke="#959595" stroke-width="1.3" />
<line x1="909.7" y1="387.8" x2="909.7" y2="395.40000000000003" stroke="#959595" stroke-width="1.3" />
<circle cx="905.4000000000001" cy="391.6" r="2.7" fill="none" stroke="#b4b4b4" stroke-width="0.9"/>
<line x1="808.3000000000001" y1="383.6" x2="808.3000000000001" y2="399.6" stroke="#b4b4b4" stroke-width="0.8" />
<rect x="805.3000000000001" y="387.8" width="6" height="2" rx="1" fill="#a8a8a8"/>
<rect x="805.3000000000001" y="393.8" width="6" height="2" rx="1" fill="#b0b0b0"/>
<path d="M805.8000000000001,375.20000000000005 L809.9000000000001,380.0 M810.8000000000001,375.20000000000005 L806.7,380.0" fill="none" stroke="#8c8c8c" stroke-width="1.2"/>
<line x1="808.3000000000001" y1="380.40000000000003" x2="808.3000000000001" y2="383.6" stroke="#aaa" stroke-width="0.8" />
<line x1="884.5" y1="383.6" x2="884.5" y2="399.6" stroke="#b4b4b4" stroke-width="0.8" />
<rect x="881.5" y="387.8" width="6" height="2" rx="1" fill="#a8a8a8"/>
<rect x="881.5" y="393.8" width="6" height="2" rx="1" fill="#b0b0b0"/>
<path d="M882.0,375.20000000000005 L886.1,380.0 M887.0,375.20000000000005 L882.9,380.0" fill="none" stroke="#8c8c8c" stroke-width="1.2"/>
<line x1="884.5" y1="380.40000000000003" x2="884.5" y2="383.6" stroke="#aaa" stroke-width="0.8" />
<line x1="832.7" y1="389.1" x2="832.7" y2="394.1" stroke="#b4b4b4" stroke-width="1.2" />
<circle cx="777.7" cy="388.1" r="0.7" fill="#b4b4b4"/>
<circle cx="777.7" cy="395.1" r="0.7" fill="#b4b4b4"/>
<circle cx="917.2" cy="388.6" r="0.6" fill="#b4b4b4"/>
<circle cx="917.2" cy="394.6" r="0.6" fill="#b4b4b4"/>
<text x="501.4" y="415.8" font-size="8.6" fill="#2e2e2e" font-weight="normal" stroke="#2e2e2e" stroke-width="0.06" textLength="53" lengthAdjust="spacingAndGlyphs">Сеть - 220 В</text>
<text x="567.4" y="415.8" font-size="8.6" fill="#2e2e2e" font-weight="normal" stroke="#2e2e2e" stroke-width="0.06" textLength="76.5" lengthAdjust="spacingAndGlyphs">Блок питания 12 В</text>
<text x="658.8" y="415.8" font-size="8.6" fill="#2e2e2e" font-weight="normal" stroke="#2e2e2e" stroke-width="0.06" textLength="33" lengthAdjust="spacingAndGlyphs">Диммер</text>
<text x="774" y="357.3" font-size="8.6" fill="#2e2e2e" font-weight="normal" stroke="#2e2e2e" stroke-width="0.06" textLength="77" lengthAdjust="spacingAndGlyphs">Лента до 5 метров</text>
<text x="774" y="415.6" font-size="8.6" fill="#2e2e2e" font-weight="normal" stroke="#2e2e2e" stroke-width="0.06" textLength="77" lengthAdjust="spacingAndGlyphs">Лента до 5 метров</text>
<line x1="502.8" y1="596.4" x2="510.0" y2="596.4" stroke="#9a9a9a" stroke-width="1.4" />
<line x1="502.8" y1="604" x2="510.0" y2="604" stroke="#9a9a9a" stroke-width="1.4" />
<rect x="510" y="592.8" width="6.4" height="14.4" rx="1" fill="#fff" stroke="#9a9a9a" stroke-width="1.3"/>
<path d="M516.4,593 L528,600.2 L516.4,607" fill="none" stroke="#9a9a9a" stroke-width="1.3"/>
<path d="M528,599.4 L583,599.4 C588,599.4 588,596.9 594,596.9 L672,596.9" fill="none" stroke="#8a4a3e" stroke-width="1.6"/>
<path d="M528,601 L583,601 C588,601 588,603.8 594,603.8 L672,603.8" fill="none" stroke="#45a3d8" stroke-width="1.6"/>
<polyline points="634.1,596.9 634.1,539.8 672,539.8" fill="none" stroke="#8a4a3e" stroke-width="1.6" stroke-linejoin="miter"/>
<polyline points="641.1,603.8 641.1,546.9 672,546.9" fill="none" stroke="#45a3d8" stroke-width="1.6" stroke-linejoin="miter"/>
<rect x="671.5" y="529.5" width="55" height="28" fill="#fff" stroke="#a0a0a0" stroke-width="1.15"/>
<line x1="726.5" y1="537.0" x2="730.0" y2="537.0" stroke="#b4b4b4" stroke-width="1" />
<line x1="726.5" y1="544.0" x2="730.0" y2="544.0" stroke="#b4b4b4" stroke-width="1" />
<line x1="726.5" y1="550.5" x2="730.0" y2="550.5" stroke="#b4b4b4" stroke-width="1" />
<text x="721.5" y="541.7" font-size="4.5" fill="#c8c8c8">+</text>
<text x="721.5" y="548.7" font-size="4.5" fill="#c8c8c8">-</text>
<text x="674.5" y="541.7" font-size="4.2" fill="#c4c4c4">L</text>
<text x="674.5" y="548.7" font-size="4.2" fill="#c4c4c4">N</text>
<line x1="668" y1="537.0" x2="671.5" y2="537.0" stroke="#b4b4b4" stroke-width="1" />
<line x1="668" y1="544.0" x2="671.5" y2="544.0" stroke="#b4b4b4" stroke-width="1" />
<line x1="668" y1="550.5" x2="671.5" y2="550.5" stroke="#b4b4b4" stroke-width="1" />
<rect x="671.5" y="586.3" width="55" height="28" fill="#fff" stroke="#a0a0a0" stroke-width="1.15"/>
<line x1="726.5" y1="593.8" x2="730.0" y2="593.8" stroke="#b4b4b4" stroke-width="1" />
<line x1="726.5" y1="600.8" x2="730.0" y2="600.8" stroke="#b4b4b4" stroke-width="1" />
<line x1="726.5" y1="607.3" x2="730.0" y2="607.3" stroke="#b4b4b4" stroke-width="1" />
<text x="721.5" y="598.5" font-size="4.5" fill="#c8c8c8">+</text>
<text x="721.5" y="605.5" font-size="4.5" fill="#c8c8c8">-</text>
<text x="674.5" y="598.5" font-size="4.2" fill="#c4c4c4">L</text>
<text x="674.5" y="605.5" font-size="4.2" fill="#c4c4c4">N</text>
<line x1="668" y1="593.8" x2="671.5" y2="593.8" stroke="#b4b4b4" stroke-width="1" />
<line x1="668" y1="600.8" x2="671.5" y2="600.8" stroke="#b4b4b4" stroke-width="1" />
<line x1="668" y1="607.3" x2="671.5" y2="607.3" stroke="#b4b4b4" stroke-width="1" />
<polyline points="726.5,539.8 773.6,539.8" fill="none" stroke="#b3303f" stroke-width="2.0" stroke-linejoin="miter"/>
<polyline points="726.5,546.7 773.6,546.7" fill="none" stroke="#2a2d30" stroke-width="2.0" stroke-linejoin="miter"/>
<polyline points="726.5,596.9 773.6,596.9" fill="none" stroke="#b3303f" stroke-width="2.0" stroke-linejoin="miter"/>
<polyline points="726.5,603.9 773.6,603.9" fill="none" stroke="#2a2d30" stroke-width="2.0" stroke-linejoin="miter"/>
<path d="M919.6,535 L773.6,535 L773.6,551 L919.6,551" fill="none" stroke="#9a9a9a" stroke-width="1.1"/>
<line x1="919.1" y1="535" x2="919.1" y2="551" stroke="#c4c4c4" stroke-width="0.9" stroke-dasharray="2.5,1.5"/>
<line x1="796.1" y1="534.5" x2="796.1" y2="551.5" stroke="#9a9a9a" stroke-width="1" />
<path d="M799.1,535 Q797.1,543.0 799.1,551" fill="none" stroke="#9a9a9a" stroke-width="1"/>
<line x1="894.4" y1="534.5" x2="894.4" y2="551.5" stroke="#9a9a9a" stroke-width="1" />
<path d="M897.4,535 Q895.4,543.0 897.4,551" fill="none" stroke="#9a9a9a" stroke-width="1"/>
<rect x="782.4" y="539.2" width="9.4" height="7.6" fill="none" stroke="#9a9a9a" stroke-width="1"/>
<line x1="782.8" y1="539.2" x2="782.8" y2="546.8000000000001" stroke="#959595" stroke-width="1.3" />
<line x1="791.4" y1="539.2" x2="791.4" y2="546.8000000000001" stroke="#959595" stroke-width="1.3" />
<circle cx="787.1" cy="543.0" r="2.7" fill="none" stroke="#b4b4b4" stroke-width="0.9"/>
<rect x="815.2" y="539.2" width="9.4" height="7.6" fill="none" stroke="#9a9a9a" stroke-width="1"/>
<line x1="815.6" y1="539.2" x2="815.6" y2="546.8000000000001" stroke="#959595" stroke-width="1.3" />
<line x1="824.2" y1="539.2" x2="824.2" y2="546.8000000000001" stroke="#959595" stroke-width="1.3" />
<circle cx="819.9000000000001" cy="543.0" r="2.7" fill="none" stroke="#b4b4b4" stroke-width="0.9"/>
<rect x="840.8000000000001" y="539.2" width="9.4" height="7.6" fill="none" stroke="#9a9a9a" stroke-width="1"/>
<line x1="841.2" y1="539.2" x2="841.2" y2="546.8000000000001" stroke="#959595" stroke-width="1.3" />
<line x1="849.8000000000001" y1="539.2" x2="849.8000000000001" y2="546.8000000000001" stroke="#959595" stroke-width="1.3" />
<circle cx="845.5000000000001" cy="543.0" r="2.7" fill="none" stroke="#b4b4b4" stroke-width="0.9"/>
<rect x="865.8000000000001" y="539.2" width="9.4" height="7.6" fill="none" stroke="#9a9a9a" stroke-width="1"/>
<line x1="866.2" y1="539.2" x2="866.2" y2="546.8000000000001" stroke="#959595" stroke-width="1.3" />
<line x1="874.8000000000001" y1="539.2" x2="874.8000000000001" y2="546.8000000000001" stroke="#959595" stroke-width="1.3" />
<circle cx="870.5000000000001" cy="543.0" r="2.7" fill="none" stroke="#b4b4b4" stroke-width="0.9"/>
<rect x="900.6" y="539.2" width="9.4" height="7.6" fill="none" stroke="#9a9a9a" stroke-width="1"/>
<line x1="901.0" y1="539.2" x2="901.0" y2="546.8000000000001" stroke="#959595" stroke-width="1.3" />
<line x1="909.6" y1="539.2" x2="909.6" y2="546.8000000000001" stroke="#959595" stroke-width="1.3" />
<circle cx="905.3000000000001" cy="543.0" r="2.7" fill="none" stroke="#b4b4b4" stroke-width="0.9"/>
<line x1="808.2" y1="535" x2="808.2" y2="551" stroke="#b4b4b4" stroke-width="0.8" />
<rect x="805.2" y="539.2" width="6" height="2" rx="1" fill="#a8a8a8"/>
<rect x="805.2" y="545.2" width="6" height="2" rx="1" fill="#b0b0b0"/>
<path d="M805.7,526.6 L809.8000000000001,531.4 M810.7,526.6 L806.6,531.4" fill="none" stroke="#8c8c8c" stroke-width="1.2"/>
<line x1="808.2" y1="531.8" x2="808.2" y2="535" stroke="#aaa" stroke-width="0.8" />
<line x1="884.4" y1="535" x2="884.4" y2="551" stroke="#b4b4b4" stroke-width="0.8" />
<rect x="881.4" y="539.2" width="6" height="2" rx="1" fill="#a8a8a8"/>
<rect x="881.4" y="545.2" width="6" height="2" rx="1" fill="#b0b0b0"/>
<path d="M881.9,526.6 L886.0,531.4 M886.9,526.6 L882.8,531.4" fill="none" stroke="#8c8c8c" stroke-width="1.2"/>
<line x1="884.4" y1="531.8" x2="884.4" y2="535" stroke="#aaa" stroke-width="0.8" />
<line x1="832.6" y1="540.5" x2="832.6" y2="545.5" stroke="#b4b4b4" stroke-width="1.2" />
<circle cx="777.6" cy="539.5" r="0.7" fill="#b4b4b4"/>
<circle cx="777.6" cy="546.5" r="0.7" fill="#b4b4b4"/>
<circle cx="917.1" cy="540" r="0.6" fill="#b4b4b4"/>
<circle cx="917.1" cy="546" r="0.6" fill="#b4b4b4"/>
<path d="M919.6,591.7 L773.6,591.7 L773.6,607.7 L919.6,607.7" fill="none" stroke="#9a9a9a" stroke-width="1.1"/>
<line x1="919.1" y1="591.7" x2="919.1" y2="607.7" stroke="#c4c4c4" stroke-width="0.9" stroke-dasharray="2.5,1.5"/>
<line x1="796.1" y1="591.2" x2="796.1" y2="608.2" stroke="#9a9a9a" stroke-width="1" />
<path d="M799.1,591.7 Q797.1,599.7 799.1,607.7" fill="none" stroke="#9a9a9a" stroke-width="1"/>
<line x1="894.4" y1="591.2" x2="894.4" y2="608.2" stroke="#9a9a9a" stroke-width="1" />
<path d="M897.4,591.7 Q895.4,599.7 897.4,607.7" fill="none" stroke="#9a9a9a" stroke-width="1"/>
<rect x="782.4" y="595.9000000000001" width="9.4" height="7.6" fill="none" stroke="#9a9a9a" stroke-width="1"/>
<line x1="782.8" y1="595.9000000000001" x2="782.8" y2="603.5000000000001" stroke="#959595" stroke-width="1.3" />
<line x1="791.4" y1="595.9000000000001" x2="791.4" y2="603.5000000000001" stroke="#959595" stroke-width="1.3" />
<circle cx="787.1" cy="599.7" r="2.7" fill="none" stroke="#b4b4b4" stroke-width="0.9"/>
<rect x="815.2" y="595.9000000000001" width="9.4" height="7.6" fill="none" stroke="#9a9a9a" stroke-width="1"/>
<line x1="815.6" y1="595.9000000000001" x2="815.6" y2="603.5000000000001" stroke="#959595" stroke-width="1.3" />
<line x1="824.2" y1="595.9000000000001" x2="824.2" y2="603.5000000000001" stroke="#959595" stroke-width="1.3" />
<circle cx="819.9000000000001" cy="599.7" r="2.7" fill="none" stroke="#b4b4b4" stroke-width="0.9"/>
<rect x="840.8000000000001" y="595.9000000000001" width="9.4" height="7.6" fill="none" stroke="#9a9a9a" stroke-width="1"/>
<line x1="841.2" y1="595.9000000000001" x2="841.2" y2="603.5000000000001" stroke="#959595" stroke-width="1.3" />
<line x1="849.8000000000001" y1="595.9000000000001" x2="849.8000000000001" y2="603.5000000000001" stroke="#959595" stroke-width="1.3" />
<circle cx="845.5000000000001" cy="599.7" r="2.7" fill="none" stroke="#b4b4b4" stroke-width="0.9"/>
<rect x="865.8000000000001" y="595.9000000000001" width="9.4" height="7.6" fill="none" stroke="#9a9a9a" stroke-width="1"/>
<line x1="866.2" y1="595.9000000000001" x2="866.2" y2="603.5000000000001" stroke="#959595" stroke-width="1.3" />
<line x1="874.8000000000001" y1="595.9000000000001" x2="874.8000000000001" y2="603.5000000000001" stroke="#959595" stroke-width="1.3" />
<circle cx="870.5000000000001" cy="599.7" r="2.7" fill="none" stroke="#b4b4b4" stroke-width="0.9"/>
<rect x="900.6" y="595.9000000000001" width="9.4" height="7.6" fill="none" stroke="#9a9a9a" stroke-width="1"/>
<line x1="901.0" y1="595.9000000000001" x2="901.0" y2="603.5000000000001" stroke="#959595" stroke-width="1.3" />
<line x1="909.6" y1="595.9000000000001" x2="909.6" y2="603.5000000000001" stroke="#959595" stroke-width="1.3" />
<circle cx="905.3000000000001" cy="599.7" r="2.7" fill="none" stroke="#b4b4b4" stroke-width="0.9"/>
<line x1="808.2" y1="591.7" x2="808.2" y2="607.7" stroke="#b4b4b4" stroke-width="0.8" />
<rect x="805.2" y="595.9000000000001" width="6" height="2" rx="1" fill="#a8a8a8"/>
<rect x="805.2" y="601.9000000000001" width="6" height="2" rx="1" fill="#b0b0b0"/>
<path d="M805.7,583.3000000000001 L809.8000000000001,588.1 M810.7,583.3000000000001 L806.6,588.1" fill="none" stroke="#8c8c8c" stroke-width="1.2"/>
<line x1="808.2" y1="588.5" x2="808.2" y2="591.7" stroke="#aaa" stroke-width="0.8" />
<line x1="884.4" y1="591.7" x2="884.4" y2="607.7" stroke="#b4b4b4" stroke-width="0.8" />
<rect x="881.4" y="595.9000000000001" width="6" height="2" rx="1" fill="#a8a8a8"/>
<rect x="881.4" y="601.9000000000001" width="6" height="2" rx="1" fill="#b0b0b0"/>
<path d="M881.9,583.3000000000001 L886.0,588.1 M886.9,583.3000000000001 L882.8,588.1" fill="none" stroke="#8c8c8c" stroke-width="1.2"/>
<line x1="884.4" y1="588.5" x2="884.4" y2="591.7" stroke="#aaa" stroke-width="0.8" />
<line x1="832.6" y1="597.2" x2="832.6" y2="602.2" stroke="#b4b4b4" stroke-width="1.2" />
<circle cx="777.6" cy="596.2" r="0.7" fill="#b4b4b4"/>
<circle cx="777.6" cy="603.2" r="0.7" fill="#b4b4b4"/>
<circle cx="917.1" cy="596.7" r="0.6" fill="#b4b4b4"/>
<circle cx="917.1" cy="602.7" r="0.6" fill="#b4b4b4"/>
<text x="501.5" y="619.5999999999999" font-size="8.6" fill="#2e2e2e" font-weight="normal" stroke="#2e2e2e" stroke-width="0.06" textLength="53" lengthAdjust="spacingAndGlyphs">Сеть - 220 В</text>
<text x="670.9" y="567.9" font-size="8.6" fill="#2e2e2e" font-weight="normal" stroke="#2e2e2e" stroke-width="0.06" textLength="76.5" lengthAdjust="spacingAndGlyphs">Блок питания 12 В</text>
<text x="670.9" y="625.0999999999999" font-size="8.6" fill="#2e2e2e" font-weight="normal" stroke="#2e2e2e" stroke-width="0.06" textLength="76.5" lengthAdjust="spacingAndGlyphs">Блок питания 12 В</text>
<text x="774" y="561.9" font-size="8.6" fill="#2e2e2e" font-weight="normal" stroke="#2e2e2e" stroke-width="0.06" textLength="77" lengthAdjust="spacingAndGlyphs">Лента до 5 метров</text>
<text x="774" y="619.3" font-size="8.6" fill="#2e2e2e" font-weight="normal" stroke="#2e2e2e" stroke-width="0.06" textLength="77" lengthAdjust="spacingAndGlyphs">Лента до 5 метров</text>
</svg>
</body></html>
